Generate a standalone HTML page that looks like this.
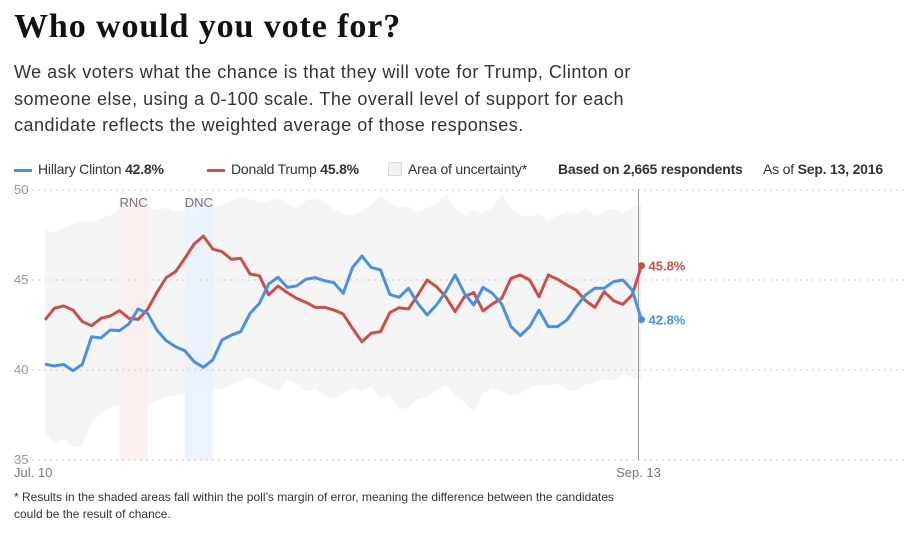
<!DOCTYPE html>
<html><head><meta charset="utf-8">
<style>
html,body{margin:0;padding:0;background:#fff;width:904px;height:536px;overflow:hidden;font-family:"Liberation Sans",sans-serif;color:#333}
#title{position:absolute;left:14px;top:8px;font-family:"Liberation Serif",serif;font-weight:bold;font-size:34px;color:#111;letter-spacing:0.9px}
#desc{position:absolute;left:14px;top:59px;width:680px;font-size:18px;line-height:26.5px;color:#333;letter-spacing:0.5px}
.leg{position:absolute;top:161px;font-size:14px;color:#333;white-space:nowrap;letter-spacing:-0.2px}
#foot{position:absolute;left:14px;top:489px;font-size:12px;line-height:17px;color:#333}
svg{position:absolute;left:0;top:0}
</style></head><body>
<div id="title">Who would you vote for?</div>
<div id="desc">We ask voters what the chance is that they will vote for Trump, Clinton or<br>someone else, using a 0-100 scale. The overall level of support for each<br>candidate reflects the weighted average of those responses.</div>
<div class="leg" style="left:14px"><span style="display:inline-block;width:18px;height:3px;background:#4a90e2;vertical-align:middle;margin-right:6px"></span>Hillary Clinton <b>42.8%</b></div>
<div class="leg" style="left:207px"><span style="display:inline-block;width:18px;height:3px;background:#c9504a;vertical-align:middle;margin-right:6px"></span>Donald Trump <b>45.8%</b></div>
<div class="leg" style="left:388px"><span style="display:inline-block;width:12px;height:12px;background:#f2f2f2;border:1px solid #ddd;vertical-align:-2px;margin-right:6px"></span>Area of uncertainty*</div>
<div class="leg" style="left:558px"><b>Based on 2,665 respondents</b></div>
<div class="leg" style="left:763px">As of <b>Sep. 13, 2016</b></div>
<svg id="chart" width="904" height="536"></svg>
<div id="foot">* Results in the shaded areas fall within the poll’s margin of error, meaning the difference between the candidates<br>could be the result of chance.</div>
<script>
const clinton=[40.33,40.22,40.31,39.96,40.31,41.85,41.78,42.22,42.19,42.56,43.39,43.15,42.22,41.63,41.30,41.07,40.46,40.15,40.56,41.67,41.94,42.13,43.15,43.70,44.78,45.15,44.59,44.67,45.04,45.13,44.96,44.85,44.26,
45.70,46.33,45.70,45.56,44.20,44.04,44.54,43.70,43.06,43.61,44.35,45.28,44.26,43.61,44.59,44.26,43.67,42.41,41.91,42.41,43.33,42.41,42.41,42.78,43.52,44.17,44.54,44.54,44.91,45.0,44.44,42.8];
const trump=[42.78,43.43,43.56,43.33,42.69,42.46,42.87,43.0,43.30,42.87,42.81,43.37,44.30,45.13,45.46,46.20,47.0,47.44,46.72,46.57,46.15,46.20,45.33,45.24,44.17,44.67,44.30,43.98,43.76,43.48,43.48,43.33,43.11,
42.31,41.57,42.04,42.13,43.19,43.46,43.39,44.17,45.0,44.63,44.07,43.24,44.07,44.30,43.28,43.67,43.98,45.09,45.28,45.0,44.07,45.28,45.04,44.72,44.44,43.85,43.48,44.35,43.85,43.65,44.17,45.8];
const upper=[47.8,47.6,47.9,48.1,48.3,48.2,48.4,48.6,49.0,49.3,49.2,49.0,48.9,49.0,48.8,48.9,48.7,48.8,49.0,49.2,49.4,49.6,49.5,49.3,49.4,49.6,49.2,49.0,49.4,49.6,49.3,48.9,48.7,
48.6,48.8,49.2,49.7,49.3,49.0,49.1,48.8,49.0,49.2,49.8,49.0,48.6,48.9,48.7,49.0,49.8,49.0,48.6,48.5,48.7,48.3,48.6,48.8,48.7,49.0,48.6,48.8,49.0,48.7,49.0,49.2];
const lower=[36.5,35.9,36.2,35.7,35.8,37.1,37.6,37.9,38.1,38.0,38.2,38.0,38.3,38.5,38.6,38.7,38.5,38.8,39.1,38.9,39.2,39.4,39.6,39.3,39.1,38.8,39.5,39.2,38.8,39.0,38.6,38.4,38.7,
39.0,38.8,39.1,38.4,38.6,37.8,37.9,38.4,38.5,38.9,39.2,38.6,38.2,37.7,38.7,39.0,38.8,38.6,38.7,39.0,39.2,39.1,39.3,38.9,38.8,39.2,39.3,39.5,39.4,39.8,39.6,39.4];
const yTicks=[50,45,40,35];
const events=[{label:"RNC",start:8,end:11,color:"#fbeeee"},{label:"DNC",start:15,end:18,color:"#eaf1fb"}];
const xLabels=[{i:0,label:"Jul. 10"},{i:64,label:"Sep. 13"}];

const svg=document.getElementById('chart');
const NS='http://www.w3.org/2000/svg';
const X0=45,X1=641.5,Y50=190,YPER=18;
const n=clinton.length;
const x=i=>X0+(X1-X0)*i/(n-1);
const y=v=>Y50+(50-v)*YPER;
function mk(tag,attrs){const e=document.createElementNS(NS,tag);for(const k in attrs)e.setAttribute(k,attrs[k]);svg.appendChild(e);return e;}

let d='M'+upper.map((v,i)=>x(i)+','+y(v)).join('L');
for(let i=n-1;i>=0;i--)d+='L'+x(i)+','+y(lower[i]);
const band=mk('path',{d:d+'Z',fill:'#f5f5f5'});



events.forEach(ev=>{
  const r=mk('rect',{x:x(ev.start),y:y(50)+8,width:x(ev.end)-x(ev.start),height:y(35)-y(50)-8,fill:ev.color,opacity:0.85});
  
  
  const t=mk('text',{x:(x(ev.start)+x(ev.end))/2,y:y(50)+17,'text-anchor':'middle','font-size':13,fill:'#777'});
  t.textContent=ev.label;
  
  
});

yTicks.forEach(v=>{
  const l=mk('line',{x1:14,x2:904,y1:y(v),y2:y(v),stroke:'#ccc','stroke-dasharray':'2,4','stroke-width':1});
  
  
  const t=mk('text',{x:14,y:y(v)+4,'font-size':13,fill:'#999'});
  t.textContent=v;
  
  
});
xLabels.forEach(o=>{
  const t=mk('text',{x:o.i===0?14:x(o.i)-3,y:y(35)+17,'font-size':13,fill:'#777','text-anchor':o.i===0?'start':'middle'});
  t.textContent=o.label;
  
  
});
const vl=mk('line',{x1:x(n-1)-3,x2:x(n-1)-3,y1:y(50),y2:y(35),stroke:'#999','stroke-width':1});



function series(arr,color,name){
  const p=mk('path',{d:'M'+arr.map((v,i)=>x(i)+','+y(v)).join('L'),fill:'none',stroke:color,'stroke-width':3,'stroke-linejoin':'round'});
  
  
  const v=arr[n-1];
  const c=mk('circle',{cx:x(n-1),cy:y(v),r:3.5,fill:color});
  
  
  const t=mk('text',{x:x(n-1)+7,y:y(v)+5,'font-size':13,'font-weight':'bold',fill:color});
  t.textContent=v.toFixed(1)+'%';
  
  
}
series(trump,'#c9504a','trump');
series(clinton,'#4a90e2','clinton');
</script>
</body></html>
